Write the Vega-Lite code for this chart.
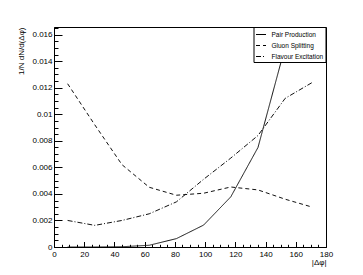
{
  "$schema": "https://vega.github.io/schema/vega-lite/v6.json",
  "width": 272,
  "height": 220,
  "autosize": {"type": "none"},
  "padding": {"left": 54, "top": 27, "right": 37, "bottom": 28},
  "background": "white",
  "config": {
    "view": {"stroke": "black", "strokeWidth": 1},
    "font": "Liberation Sans",
    "axis": {
      "labelFont": "Liberation Sans",
      "labelFontSize": 8,
      "labelColor": "black",
      "titleFont": "Liberation Sans",
      "titleFontSize": 8,
      "titleFontWeight": "normal",
      "titleColor": "black",
      "domainColor": "black",
      "tickColor": "black",
      "grid": false,
      "labelOverlap": false
    }
  },
  "data": {
    "values": [
      {"series": "Pair Production", "x": 9, "y": 0.0},
      {"series": "Pair Production", "x": 27, "y": 0.0},
      {"series": "Pair Production", "x": 45, "y": 0.00002},
      {"series": "Pair Production", "x": 63, "y": 0.00013},
      {"series": "Pair Production", "x": 81, "y": 0.00063},
      {"series": "Pair Production", "x": 99, "y": 0.00165},
      {"series": "Pair Production", "x": 117, "y": 0.00378},
      {"series": "Pair Production", "x": 135, "y": 0.0075},
      {"series": "Pair Production", "x": 153, "y": 0.0151},
      {"series": "Pair Production", "x": 171, "y": 0.026},
      {"series": "Gluon Splitting", "x": 9, "y": 0.0123},
      {"series": "Gluon Splitting", "x": 27, "y": 0.0092},
      {"series": "Gluon Splitting", "x": 45, "y": 0.0062},
      {"series": "Gluon Splitting", "x": 63, "y": 0.0045},
      {"series": "Gluon Splitting", "x": 81, "y": 0.0039},
      {"series": "Gluon Splitting", "x": 99, "y": 0.00405},
      {"series": "Gluon Splitting", "x": 117, "y": 0.00452},
      {"series": "Gluon Splitting", "x": 135, "y": 0.0043},
      {"series": "Gluon Splitting", "x": 153, "y": 0.0036},
      {"series": "Gluon Splitting", "x": 171, "y": 0.0030},
      {"series": "Flavour Excitation", "x": 9, "y": 0.0020},
      {"series": "Flavour Excitation", "x": 27, "y": 0.00163},
      {"series": "Flavour Excitation", "x": 45, "y": 0.0020},
      {"series": "Flavour Excitation", "x": 63, "y": 0.0025},
      {"series": "Flavour Excitation", "x": 81, "y": 0.0034},
      {"series": "Flavour Excitation", "x": 99, "y": 0.0051},
      {"series": "Flavour Excitation", "x": 117, "y": 0.0067},
      {"series": "Flavour Excitation", "x": 135, "y": 0.0084},
      {"series": "Flavour Excitation", "x": 153, "y": 0.0112},
      {"series": "Flavour Excitation", "x": 171, "y": 0.0124}
    ]
  },
  "layer": [
    {
      "mark": {"type": "line", "clip": true, "color": "#111111", "strokeWidth": 1},
      "encoding": {
        "x": {
          "field": "x", "type": "quantitative",
          "scale": {"domain": [0, 180], "nice": false, "zero": false},
          "axis": {
            "orient": "bottom",
            "values": [0, 20, 40, 60, 80, 100, 120, 140, 160, 180],
            "tickSize": -5.5,
            "labelPadding": 8.5,
            "labelFlush": false,
            "title": "|Δφ|",
            "titleAnchor": "end",
            "titleX": 272,
            "titleY": 11,
            "titleAlign": "right",
            "titleBaseline": "top"
          }
        },
        "y": {
          "field": "y", "type": "quantitative",
          "scale": {"domain": [0, 0.016573], "nice": false},
          "axis": {
            "orient": "left",
            "values": [0, 0.002, 0.004, 0.006, 0.008, 0.01, 0.012, 0.014, 0.016],
            "labelExpr": "datum.value == 0 ? '0' : format(datum.value, '.3~f')",
            "tickSize": -8,
            "labelPadding": 10,
            "title": "1/N dN/d(Δφ)",
            "titleAnchor": "end",
            "titleX": -33,
            "titleY": 0,
            "titleAngle": -90,
            "titleAlign": "right",
            "titleBaseline": "middle"
          }
        },
        "strokeDash": {
          "field": "series", "type": "nominal",
          "scale": {
            "domain": ["Pair Production", "Gluon Splitting", "Flavour Excitation"],
            "range": [[1, 0], [4, 3], [5, 2, 1, 2]]
          },
          "legend": {
            "orient": "none",
            "legendX": 199.5,
            "legendY": 0,
            "direction": "vertical",
            "title": null,
            "strokeColor": "black",
            "fillColor": "white",
            "padding": 2,
            "symbolType": "stroke",
            "symbolSize": 100,
            "symbolStrokeWidth": 1,
            "symbolStrokeColor": "black",
            "labelFont": "Liberation Sans",
            "labelFontSize": 6.5,
            "labelColor": "black",
            "labelOffset": 5,
            "rowPadding": 2
          }
        }
      }
    },
    {
      "mark": {"type": "line", "clip": true, "opacity": 0},
      "encoding": {
        "x": {
          "field": "x", "type": "quantitative",
          "axis": {
            "orient": "bottom",
            "values": [5, 10, 15, 25, 30, 35, 45, 50, 55, 65, 70, 75, 85, 90, 95, 105, 110, 115, 125, 130, 135, 145, 150, 155, 165, 170, 175],
            "tickSize": -2.7,
            "labels": false,
            "domain": false,
            "title": null
          }
        },
        "y": {
          "field": "y", "type": "quantitative",
          "axis": {
            "orient": "left",
            "values": [0.0005, 0.001, 0.0015, 0.0025, 0.003, 0.0035, 0.0045, 0.005, 0.0055, 0.0065, 0.007, 0.0075, 0.0085, 0.009, 0.0095, 0.0105, 0.011, 0.0115, 0.0125, 0.013, 0.0135, 0.0145, 0.015, 0.0155, 0.0165],
            "tickSize": -4,
            "labels": false,
            "domain": false,
            "title": null
          }
        },
        "detail": {"field": "series", "type": "nominal"}
      }
    }
  ],
  "resolve": {"axis": {"x": "independent", "y": "independent"}}
}
